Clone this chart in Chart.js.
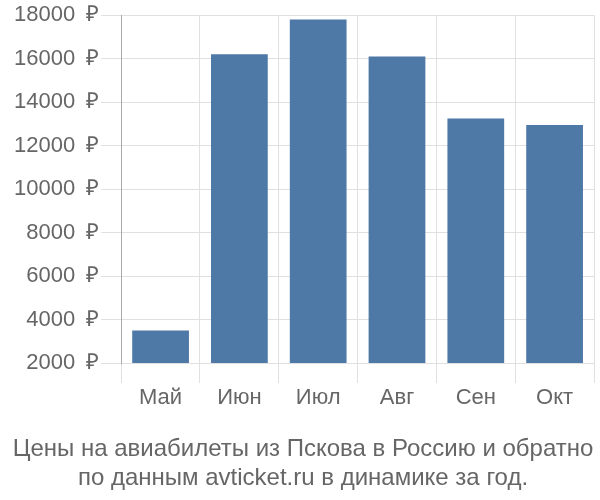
<!DOCTYPE html>
<html>
<head>
<meta charset="utf-8">
<script src="https://cdn.jsdelivr.net/npm/chart.js@4/dist/chart.umd.min.js"></script>
<style>
html,body{margin:0;padding:0;background:#fff;}
#wrap{width:600px;height:500px;}
</style>
</head>
<body>
<div id="wrap"><canvas id="c" width="600" height="500"></canvas></div>
<script>
const categories = ["Май", "Июн", "Июл", "Авг", "Сен", "Окт"];
const prices = [3500, 16200, 17800, 16100, 13250, 12950];
const yMin = 2000, yMax = 18000, yStep = 2000;
const titleLines = ["Цены на авиабилеты из Пскова в Россию и обратно", "по данным avticket.ru в динамике за год."];

Chart.defaults.font.family = "'Liberation Sans', Arial, sans-serif";
Chart.defaults.color = "#666";

new Chart(document.getElementById("c"), {
  type: "bar",
  data: {
    labels: categories,
    datasets: [{ data: prices, backgroundColor: "#4e79a7", borderWidth: 0 }]
  },
  options: {
    responsive: false,
    animation: false,
    devicePixelRatio: 1,
    layout: { padding: { left: 12, right: 6, top: 3, bottom: 7 } },
    plugins: {
      legend: { display: false },
      tooltip: { enabled: false },
      title: {
        display: true,
        position: "bottom",
        text: titleLines,
        font: { size: 24, weight: "normal", lineHeight: 1.2 },
        color: "#666",
        padding: { top: 22, bottom: 0 }
      }
    },
    scales: {
      x: {
        grid: { color: "#e0e0e0", tickLength: 20, offset: true },
        border: { color: "#e0e0e0" },
        ticks: { font: { size: 22 }, color: "#666", padding: 2 }
      },
      y: {
        min: yMin, max: yMax,
        grid: { color: "#e0e0e0", tickLength: 20 },
        border: { color: "#aaa" },
        ticks: {
          stepSize: yStep,
          font: { size: 22 },
          color: "#666",
          padding: 2,
          callback: v => v + "\u2002₽"
        }
      }
    }
  }
});
</script>
</body>
</html>
